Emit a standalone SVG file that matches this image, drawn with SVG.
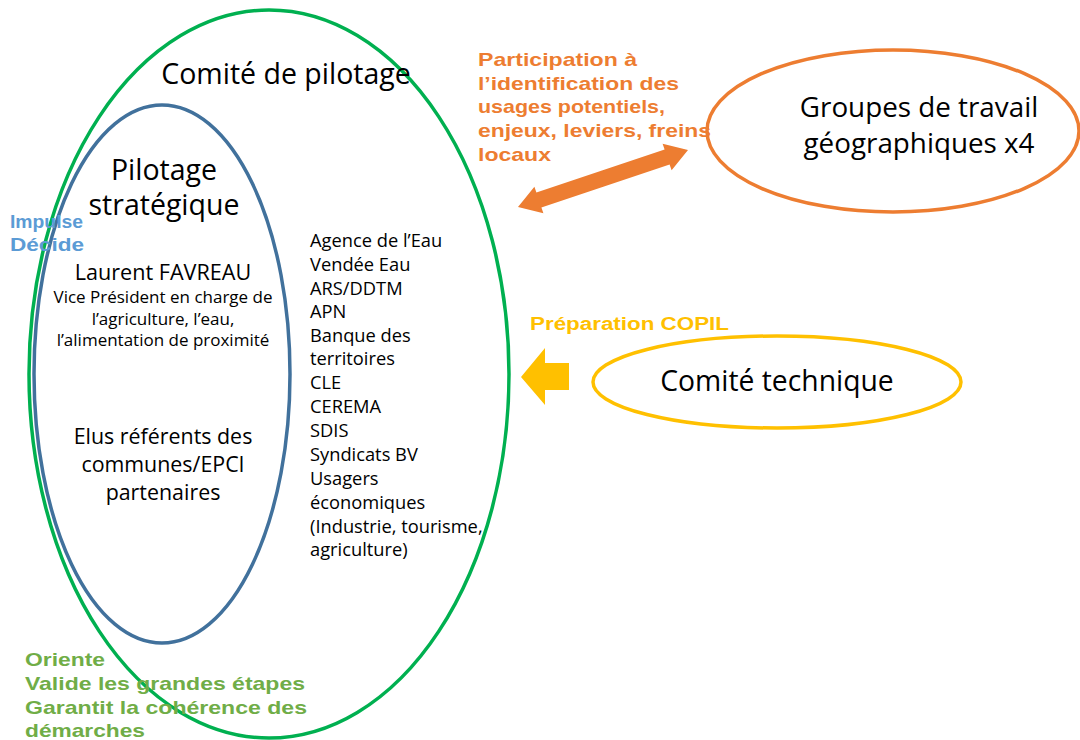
<svg xmlns="http://www.w3.org/2000/svg" width="1080" height="740" viewBox="0 0 1080 740">
<style>
.n{font-family:"Open Sans","Noto Sans",sans-serif;fill:#000}
.b{font-family:"Liberation Sans",Arial,sans-serif;font-weight:bold}
.c{text-anchor:middle}
</style>
<rect width="1080" height="740" fill="#fff"/>
<g id="copil">
<ellipse cx="269" cy="374" rx="240" ry="364" fill="none" stroke="#00b050" stroke-width="3.5"/>
<text class="n c" x="286" y="84" font-size="28.5">Comité de pilotage</text>
<g class="n" font-size="18.3">
<text x="310" y="247">Agence de l’Eau</text>
<text x="310" y="271">Vendée Eau</text>
<text x="310" y="295">ARS/DDTM</text>
<text x="310" y="318">APN</text>
<text x="310" y="342">Banque des</text>
<text x="310" y="365">territoires</text>
<text x="310" y="389">CLE</text>
<text x="310" y="413">CEREMA</text>
<text x="310" y="437">SDIS</text>
<text x="310" y="461">Syndicats BV</text>
<text x="310" y="485">Usagers</text>
<text x="310" y="509">économiques</text>
<text x="310" y="533">(Industrie, tourisme,</text>
<text x="310" y="556">agriculture)</text>
</g>
</g>
<g id="pilotage">
<ellipse cx="162" cy="374" rx="128" ry="269" fill="none" stroke="#41719c" stroke-width="3.5"/>
<text class="n c" x="164" y="180" font-size="28.5">Pilotage</text>
<text class="n c" x="164" y="215" font-size="28.5">stratégique</text>
<text class="n c" x="163" y="280" font-size="21.6">Laurent FAVREAU</text>
<text class="n c" x="163" y="303" font-size="17">Vice Président en charge de</text>
<text class="n c" x="163" y="325" font-size="17">l’agriculture, l’eau,</text>
<text class="n c" x="163" y="346" font-size="17">l’alimentation de proximité</text>
<text class="n c" x="163" y="444" font-size="21.4">Elus référents des</text>
<text class="n c" x="163" y="472" font-size="21.4">communes/EPCI</text>
<text class="n c" x="163" y="500" font-size="21.4">partenaires</text>
</g>
<g id="groupes">
<ellipse cx="893" cy="131" rx="186" ry="81" fill="none" stroke="#ed7d31" stroke-width="3.5"/>
<text class="n c" x="919" y="117" font-size="27.8">Groupes de travail</text>
<text class="n c" x="919" y="153" font-size="27.8">géographiques x4</text>
</g>
<g id="cotech">
<ellipse cx="777" cy="382" rx="184" ry="46" fill="none" stroke="#ffc000" stroke-width="3.5"/>
<text class="n c" x="777" y="391" font-size="28.3">Comité technique</text>
</g>
<g id="connectors">
<polygon fill="#ed7d31" points="518,207 543.4,213.3 541.4,207.6 669.6,164.6 671.6,170.3 688,150 662.6,143.7 664.6,149.4 536.4,192.4 534.4,186.7"/>
<polygon fill="#ffc000" points="521,377 545,348 545,363 569,363 569,390 545,390 545,405"/>
</g>
<g id="labels" class="b">
<g fill="#5b9bd5" font-size="18">
<text x="10" y="228" textLength="73" lengthAdjust="spacingAndGlyphs">Impulse</text>
<text x="10" y="251" textLength="74" lengthAdjust="spacingAndGlyphs">Décide</text>
</g>
<g fill="#ed7d31" font-size="19">
<text x="478" y="66" textLength="159" lengthAdjust="spacingAndGlyphs">Participation à</text>
<text x="478" y="90" textLength="201" lengthAdjust="spacingAndGlyphs">l’identification des</text>
<text x="478" y="113" textLength="187" lengthAdjust="spacingAndGlyphs">usages potentiels,</text>
<text x="478" y="137" textLength="233" lengthAdjust="spacingAndGlyphs">enjeux, leviers, freins</text>
<text x="478" y="161" textLength="73" lengthAdjust="spacingAndGlyphs">locaux</text>
</g>
<text x="530" y="330" fill="#ffc000" font-size="18" textLength="199" lengthAdjust="spacingAndGlyphs">Préparation COPIL</text>
<g fill="#70ad47" font-size="19">
<text x="25" y="666" textLength="80" lengthAdjust="spacingAndGlyphs">Oriente</text>
<text x="25" y="690" textLength="280" lengthAdjust="spacingAndGlyphs">Valide les grandes étapes</text>
<text x="25" y="714" textLength="282" lengthAdjust="spacingAndGlyphs">Garantit la cohérence des</text>
<text x="25" y="737" textLength="120" lengthAdjust="spacingAndGlyphs">démarches</text>
</g>
</g>
</svg>
